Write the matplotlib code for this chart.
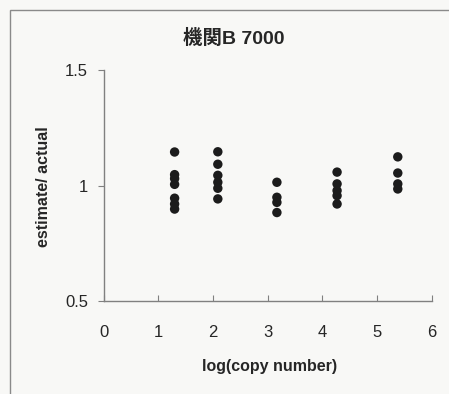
import matplotlib
matplotlib.use("Agg")
import matplotlib.pyplot as plt
from matplotlib.patches import Rectangle

plt.rcParams['font.family'] = ['Liberation Sans', 'Noto Sans CJK JP', 'DejaVu Sans']

title = "機関B 7000"
xlabel = "log(copy number)"
ylabel = "estimate/ actual"

g1_x = [1.30] * 7
g1_y = [1.145, 1.047, 1.03, 1.005, 0.945, 0.92, 0.898]
g2_x = [2.09] * 6
g2_y = [1.146, 1.092, 1.044, 1.014, 0.988, 0.942]
g3_x = [3.17] * 4
g3_y = [1.014, 0.949, 0.927, 0.883]
g4_x = [4.27] * 5
g4_y = [1.058, 1.007, 0.978, 0.956, 0.92]
g5_x = [5.38] * 4
g5_y = [1.124, 1.054, 1.007, 0.985]

xs = g1_x + g2_x + g3_x + g4_x + g5_x
ys = g1_y + g2_y + g3_y + g4_y + g5_y

xticks = [0, 1, 2, 3, 4, 5, 6]
yticks = [0.5, 1, 1.5]
ytick_labels = ["0.5", "1", "1.5"]

bg = "#f8f8f6"
tc = "#262626"
fig = plt.figure(figsize=(4.49, 3.94), dpi=100, facecolor=bg)
ax = fig.add_axes([103.5/449, 1-301/394, (431.7-103.5)/449, (301-70)/394])
ax.set_facecolor(bg)

ax.scatter(xs, ys, s=46, color="#1c1c1c", edgecolors="none", zorder=3)

ax.set_xlim(0, 6)
ax.set_ylim(0.5, 1.5)
ax.set_xticks(xticks)
ax.set_yticks(yticks)
ax.set_yticklabels(ytick_labels)
for s in ["top", "right"]:
    ax.spines[s].set_visible(False)
for s in ["left", "bottom"]:
    ax.spines[s].set_color("#808080")
    ax.spines[s].set_linewidth(1.0)
ax.tick_params(axis='x', direction='in', length=4, color="#808080", labelsize=12, pad=17, labelcolor=tc)
ax.tick_params(axis='y', direction='out', length=4.5, color="#808080", labelsize=12, pad=6.5, labelcolor=tc)

fig.text(234/449, 1-38/394, title, ha='center', va='center', fontsize=14, fontweight='bold', color=tc)
fig.text(270/449, 1-367/394, xlabel, ha='center', va='center', fontsize=11.5, fontweight='bold', color=tc)
fig.text(43/449, 1-187/394, ylabel, ha='center', va='center', rotation=90, fontsize=11.5, fontweight='bold', color=tc)

fig.add_artist(Rectangle((10/449, -0.1), 1.2, 1-10/394+0.1, transform=fig.transFigure,
                         fill=False, edgecolor="#8a8a8a", linewidth=1.0))

fig.savefig("out.png", dpi=100, facecolor=bg)
